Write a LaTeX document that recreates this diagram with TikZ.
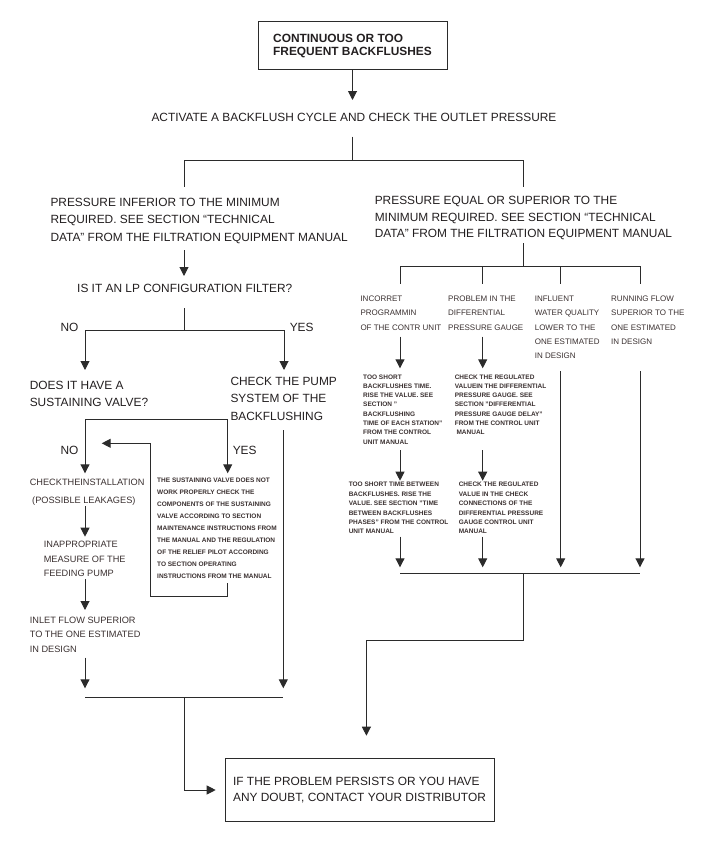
\documentclass[tikz,border=0pt]{standalone}
\usepackage{fontspec}
\setmainfont{Liberation Sans}
\usetikzlibrary{arrows.meta,positioning}

\definecolor{ink}{HTML}{231F20}
\definecolor{softink}{HTML}{3A3030}
\definecolor{wire}{HTML}{2B2B2B}

\tikzset{
    txt/.style = {text = ink, inner sep = 0pt, anchor = base west, align = left},
    bigtxt/.style = {txt, font = \fontsize{11.9}{#1}\selectfont},
    bigtxt/.default = 17,
    midtxt/.style = {txt, text = softink, font = \fontsize{9.2}{#1}\selectfont},
    midtxt/.default = 14.6,
    coltxt/.style = {txt, text = softink, font = \fontsize{8}{14.4}\selectfont},
    smalltxt/.style = {txt, text = softink, font = \bfseries\fontsize{6.5}{#1}\selectfont},
    smalltxt/.default = 9.4,
    box/.style = {draw = wire, line width = 1pt, text = ink, align = left},
}

\begin{document}
\begin{tikzpicture}[
    x = 1pt, y = -1pt, % one unit per pixel, y grows downwards
    line width = 1pt,
    color = wire,
    > = {Triangle[length = 9pt, width = 9pt]},
    ]
    \useasboundingbox (0,0) rectangle (724,843);

    % start and first check (text nodes sit on the baseline of their last line)
    \node[box, minimum width = 189pt, minimum height = 48pt,
          font = \bfseries\fontsize{11.9}{13.7}\selectfont] (start) at (352.5,46)
          {CONTINUOUS OR TOO\\FREQUENT BACKFLUSHES};
    \node[bigtxt] (activate) at (151,121.6) {ACTIVATE A BACKFLUSH CYCLE AND CHECK THE OUTLET PRESSURE};

    % the two pressure cases
    \node[bigtxt = 17.5] (low) at (50,241)
          {PRESSURE INFERIOR TO THE MINIMUM\\REQUIRED. SEE SECTION “TECHNICAL\\DATA" FROM THE FILTRATION EQUIPMENT MANUAL};
    \node[bigtxt = 16.7] (high) at (374.3,237.7)
          {PRESSURE EQUAL OR SUPERIOR TO THE\\MINIMUM REQUIRED. SEE SECTION “TECHNICAL\\DATA" FROM THE FILTRATION EQUIPMENT MANUAL};

    % left side
    \node[bigtxt] (lp) at (76.7,292.6) {IS IT AN LP CONFIGURATION FILTER?};
    \node[bigtxt] (no1) at (60,331) {NO};
    \node[bigtxt] (yes1) at (289.3,331) {YES};
    \node[bigtxt = 16.7] (sust) at (29.3,406) {DOES IT HAVE A\\SUSTAINING VALVE?};
    \node[bigtxt = 17.5] (pump) at (230,420.3) {CHECK THE PUMP\\SYSTEM OF THE\\BACKFLUSHING};
    \node[bigtxt] (no2) at (60,454.3) {NO};
    \node[bigtxt] (yes2) at (232.3,454.3) {YES};
    \node[midtxt = 18.3] (install) at (29.3,503.3) {CHECKTHEINSTALLATION\\\hspace{2.4pt}(POSSIBLE LEAKAGES)};
    \node[midtxt = 14.7] (measure) at (43.3,576.7) {INAPPROPRIATE\\MEASURE OF THE\\FEEDING PUMP};
    \node[midtxt = 14.5] (inlet) at (29.3,652.3) {INLET FLOW SUPERIOR\\TO THE ONE ESTIMATED\\IN DESIGN};
    \node[smalltxt = 12] (valve) at (156.7,578.4)
          {THE SUSTAINING VALVE DOES NOT\\WORK PROPERLY CHECK THE\\COMPONENTS OF THE SUSTAINING\\VALVE ACCORDING TO SECTION\\MAINTENANCE INSTRUCTIONS FROM\\THE MANUAL AND THE REGULATION\\OF THE RELIEF PILOT ACCORDING\\TO SECTION OPERATING\\INSTRUCTIONS FROM THE MANUAL};

    % right side
    \node[coltxt] (prog) at (360,330) {INCORRET\\PROGRAMMIN\\OF THE CONTR UNIT};
    \node[coltxt] (gauge) at (447.7,330) {PROBLEM IN THE\\DIFFERENTIAL\\PRESSURE GAUGE};
    \node[coltxt] (quality) at (534.3,358.8) {INFLUENT\\WATER QUALITY\\LOWER TO THE\\ONE ESTIMATED\\IN DESIGN};
    \node[coltxt] (flow) at (610.7,344.4) {RUNNING FLOW\\SUPERIOR TO THE\\ONE ESTIMATED\\IN DESIGN};
    \node[smalltxt = 9.3] (time1) at (362.7,444.1)
          {TOO SHORT\\BACKFLUSHES TIME.\\RISE THE VALUE. SEE\\SECTION "\\BACKFLUSHING\\TIME OF EACH STATION"\\FROM THE CONTROL\\UNIT MANUAL};
    \node[smalltxt = 9.3] (delay) at (454.3,434.8)
          {CHECK THE REGULATED\\VALUEIN THE DIFFERENTIAL\\PRESSURE GAUGE. SEE\\SECTION "DIFFERENTIAL\\PRESSURE GAUGE DELAY"\\FROM THE CONTROL UNIT\\\hspace{1.7pt}MANUAL};
    \node[smalltxt = 9.45] (time2) at (348.3,533.9)
          {TOO SHORT TIME BETWEEN\\BACKFLUSHES. RISE THE\\VALUE. SEE SECTION "TIME\\BETWEEN BACKFLUSHES\\PHASES" FROM THE CONTROL\\UNIT MANUAL};
    \node[smalltxt = 9.45] (conn) at (458.3,533.9)
          {CHECK THE REGULATED\\VALUE IN THE CHECK\\CONNECTIONS OF THE\\DIFFERENTIAL PRESSURE\\GAUGE CONTROL UNIT\\MANUAL};

    % end
    \node[box, minimum width = 269pt, minimum height = 63.4pt, inner xsep = 8pt,
          font = \fontsize{11.9}{16.7}\selectfont] (help) at (359.5,790)
          {IF THE PROBLEM PERSISTS OR YOU HAVE\\ANY DOUBT, CONTACT YOUR DISTRIBUTOR};

    % connector points
    \coordinate (a1) at (352.5,100);
    \coordinate (s1) at (352.5,136.7);
    \coordinate (f1) at (352.5,160);
    \coordinate (f1l) at (184,187);
    \coordinate (f1r) at (523.5,187);
    \coordinate (l1) at (184,250);
    \coordinate (l2) at (184,276);
    \coordinate (l3) at (184,308.3);
    \coordinate (f2) at (184,330.7);
    \coordinate (no1end) at (85,370);
    \coordinate (yes1end) at (284,370);
    \coordinate (k1) at (85,419);
    \coordinate (k2) at (227.7,419);
    \coordinate (no2end) at (85,473.3);
    \coordinate (yes2end) at (227.7,473.3);
    \coordinate (p1) at (283.3,430);
    \coordinate (p2) at (283.3,688.3);
    \coordinate (v1) at (227.7,583.3);
    \coordinate (v2) at (150.7,596.7);
    \coordinate (v3) at (101.7,443.3);
    \coordinate (m1) at (85,506);
    \coordinate (m2) at (85,536.7);
    \coordinate (m3) at (85,579);
    \coordinate (m4) at (85,610);
    \coordinate (m5) at (85,657.7);
    \coordinate (m6) at (85,688.3);
    \coordinate (j1) at (85,697.7);
    \coordinate (j2) at (283.3,697.7);
    \coordinate (j3) at (184.3,697.7);
    \coordinate (j4) at (215.7,790);

    \coordinate (r1) at (523.5,243);
    \coordinate (f3) at (523.5,266);
    \coordinate (f3a) at (400,284);
    \coordinate (f3b) at (482.7,284);
    \coordinate (f3c) at (560.7,284);
    \coordinate (f3d) at (640,284);

    % left flow
    \draw[->] (start) -- (a1);
    \draw (s1) -- (f1) -| (f1l);
    \draw (f1) -| (f1r);
    \draw[->] (l1) -- (l2);
    \draw (l3) -- (f2);
    \draw[->] (f2) -| (no1end);
    \draw[->] (f2) -| (yes1end);
    \draw[<->] (no2end) -- (k1) -- (k2) -- (yes2end);
    \draw[->] (p1) -- (p2);
    \draw[->] (v1) |- (v2) |- (v3);
    \draw[->] (m1) -- (m2);
    \draw[->] (m3) -- (m4);
    \draw[->] (m5) -- (m6);
    \draw (j1) -- (j2);
    \draw[->] (j3) |- (j4);

    % right flow
    \draw (r1) -- (f3);
    \draw (f3) -| (f3a);
    \draw (f3) -| (f3b);
    \draw (f3) -| (f3c);
    \draw (f3) -| (f3d);
    \foreach \x in {400,482.7} {
        \coordinate (t1) at (\x,336.7);
        \coordinate (t2) at (\x,368.3);
        \coordinate (t3) at (\x,450);
        \coordinate (t4) at (\x,480.7);
        \coordinate (t5) at (\x,536.7);
        \coordinate (t6) at (\x,567.3);
        \draw[->] (t1) -- (t2);
        \draw[->] (t3) -- (t4);
        \draw[->] (t5) -- (t6);
    }
    \foreach \x in {560.7,640} {
        \coordinate (u1) at (\x,371);
        \coordinate (u2) at (\x,567.3);
        \draw[->] (u1) -- (u2);
    }
    \coordinate (g1) at (400,573.3);
    \coordinate (g2) at (640,573.3);
    \coordinate (g3) at (523.5,573.3);
    \coordinate (g4) at (366.4,640);
    \coordinate (g5) at (366.4,735.7);
    \draw (g1) -- (g2);
    \draw[->] (g3) |- (g4) -- (g5);
\end{tikzpicture}
\end{document}
